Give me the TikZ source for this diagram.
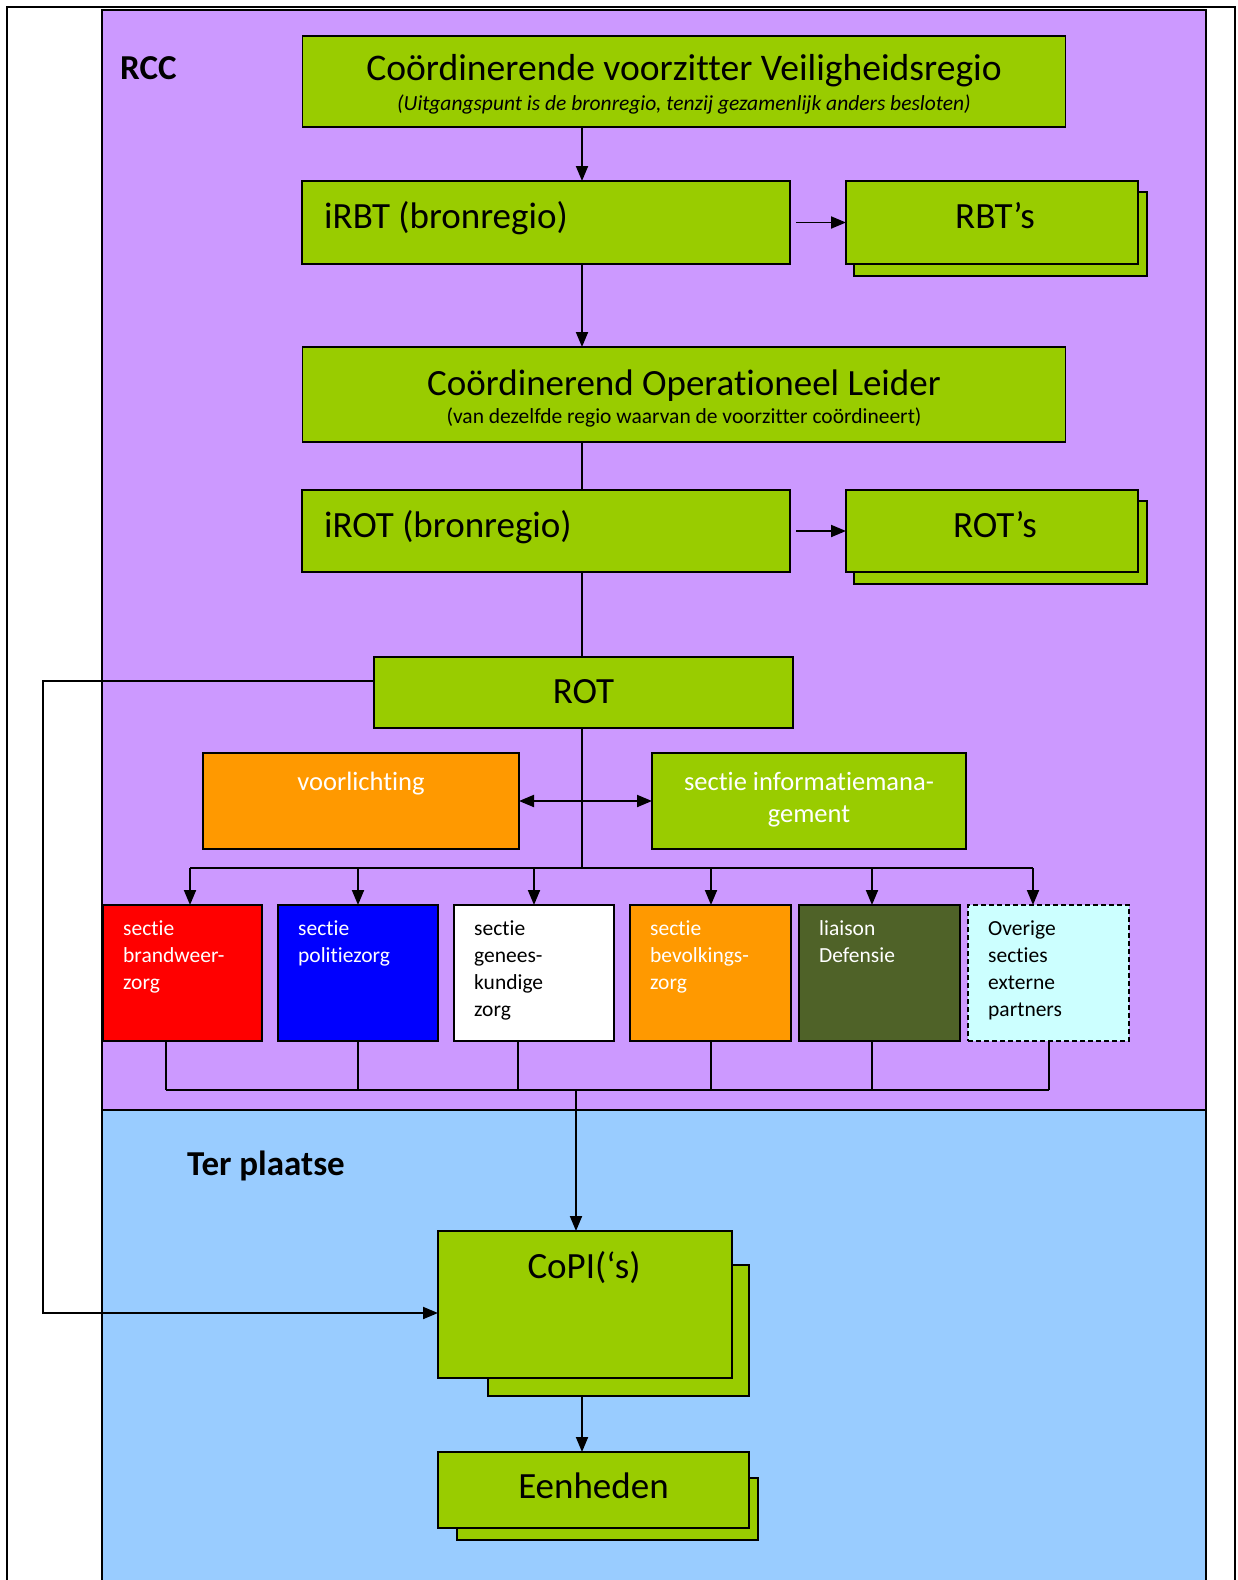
\documentclass[tikz,border=0pt]{standalone}
\usepackage{fontspec}
\setmainfont{Carlito}[Ligatures=CommonOff]
\usetikzlibrary{arrows.meta,calc}
\definecolor{grn}{HTML}{99CC00}
\definecolor{prp}{HTML}{CC99FF}
\definecolor{lbl}{HTML}{99CCFF}
\definecolor{org}{HTML}{FF9900}
\definecolor{olv}{HTML}{4F6228}
\definecolor{cyn}{HTML}{CCFFFF}
\tikzset{
  box/.style={draw=black, line width=1.9pt, fill=grn, inner sep=0pt, outer sep=0pt},
  conn/.style={draw=black, line width=1.9pt},
  arr/.style={conn, -{Triangle[length=15pt,width=12pt]}},
  dbl/.style={conn, {Triangle[length=15pt,width=12pt]}-{Triangle[length=15pt,width=12pt]}},
  big/.style={font=\fontsize{37}{44}\selectfont, inner sep=0pt},
  sub/.style={font=\fontsize{21.5}{26}\selectfont, inner sep=0pt},
  sect/.style={font=\fontsize{21.5}{27.2}\selectfont, inner sep=0pt, align=left, anchor=north west},
  ttl/.style={font=\fontsize{35}{42}\selectfont\bfseries, inner sep=0pt, anchor=base west},
}
\begin{document}
\begin{tikzpicture}[x=1pt,y=-1pt]
\clip (0,0) rectangle (1238,1580);
\fill[white] (0,0) rectangle (1238,1580);
% outer frame
\draw[line width=2.6pt] (7,1600) -- (7,7) -- (1235,7) -- (1235,1600);
% regions
\draw[fill=prp, line width=1.6pt] (102,10) rectangle (1206,1110);
\draw[fill=lbl, line width=1.6pt] (102,1110) rectangle (1206,1600);
\node[ttl] (rcc) at (120,79) {RCC};
\node[ttl] (ter) at (187,1175) {Ter plaatse};

% boxes
\node[box, minimum width=763pt, minimum height=91pt] (cv) at (684,81.5) {};
\node[big, anchor=base, font=\fontsize{37.6}{45}\selectfont] (cvt) at (684,80) {Coördinerende voorzitter Veiligheidsregio};
\node[sub, anchor=base, font=\fontsize{21.5}{26}\selectfont\itshape] (cvs) at (684,110) {(Uitgangspunt is de bronregio, tenzij gezamenlijk anders besloten)};

\node[box, minimum width=488pt, minimum height=83pt] (irbt) at (546,222.5) {};
\node[big, anchor=base west] (irbtt) at (324,228) {iRBT (bronregio)};
\node[box, minimum width=293pt, minimum height=84pt] (rbts) at (1000.5,234) {};
\node[box, minimum width=292pt, minimum height=83pt] (rbt) at (992,222.5) {};
\node[big, anchor=base] (rbtt) at (995,228) {RBT’s};

\node[box, minimum width=763pt, minimum height=95pt] (col) at (684,394.5) {};
\node[big, anchor=base] (colt) at (684,395) {Coördinerend Operationeel Leider};
\node[sub, anchor=base] (cols) at (684,423) {(van dezelfde regio waarvan de voorzitter coördineert)};

\node[box, minimum width=488pt, minimum height=82pt] (irot) at (546,531) {};
\node[big, anchor=base west] (irott) at (324,537) {iROT (bronregio)};
\node[box, minimum width=293pt, minimum height=83pt] (rots) at (1000.5,542.5) {};
\node[box, minimum width=292pt, minimum height=82pt] (rotm) at (992,531) {};
\node[big, anchor=base] (rotmt) at (995,537) {ROT’s};

\node[box, minimum width=419pt, minimum height=71pt] (rot) at (583.5,692.5) {};
\node[big, anchor=base] (rott) at (583.5,703) {ROT};

\node[box, fill=org, minimum width=316pt, minimum height=96pt] (voor) at (361,801) {};
\node[font=\fontsize{26.5}{32}\selectfont, inner sep=0pt, anchor=base, text=white] (voort) at (361,790) {voorlichting};
\node[box, minimum width=314pt, minimum height=96pt] (info) at (809,801) {};
\node[font=\fontsize{26.5}{32}\selectfont, inner sep=0pt, align=center, anchor=north, text=white] (infot) at (809,767.6) {\strut sectie informatiemana-\\\strut gement};

% sections
\node[box, fill=red, minimum width=159pt, minimum height=136pt] (s1) at (182.5,973) {};
\node[box, fill=blue, minimum width=160pt, minimum height=136pt] (s2) at (358,973) {};
\node[box, fill=white, minimum width=160pt, minimum height=136pt] (s3) at (534,973) {};
\node[box, fill=org, minimum width=161pt, minimum height=136pt] (s4) at (710.5,973) {};
\node[box, fill=olv, minimum width=161pt, minimum height=136pt] (s5) at (879.5,973) {};
\node[box, fill=cyn, dash pattern=on 5pt off 3pt, minimum width=161pt, minimum height=136pt] (s6) at (1048.5,973) {};
\node[sect, text=white] (s1t) at (123,916) {\strut sectie\\\strut brandweer-\\\strut zorg};
\node[sect, text=white] (s2t) at (298,916) {\strut sectie\\\strut politiezorg};
\node[sect, text=black] (s3t) at (474,916) {\strut sectie\\\strut genees-\\\strut kundige\\\strut zorg};
\node[sect, text=white] (s4t) at (650,916) {\strut sectie\\\strut bevolkings-\\\strut zorg};
\node[sect, text=white] (s5t) at (819,916) {\strut liaison\\\strut Defensie};
\node[sect, text=black] (s6t) at (988,916) {\strut Overige\\\strut secties\\\strut externe\\\strut partners};

% on site
\node[box, minimum width=261pt, minimum height=131pt] (copis) at (618.5,1330.5) {};
\node[box, minimum width=294pt, minimum height=147pt] (copi) at (585,1304.5) {};
\node[big, anchor=base] (copit) at (584,1278) {CoPI(‘s)};
\node[box, minimum width=301pt, minimum height=62pt] (eens) at (607.5,1509) {};
\node[box, minimum width=311pt, minimum height=76pt] (een) at (593.5,1490) {};
\node[big, anchor=base] (eent) at (593.5,1498) {Eenheden};

% connectors
\coordinate (sx) at (582,0);
\draw[arr] (cv.south -| sx) -- (irbt.north -| sx);
\draw[arr] (irbt.south -| sx) -- (col.north -| sx);
\draw[conn] (col.south -| sx) -- (irot.north -| sx);
\draw[conn] (irot.south -| sx) -- (rot.north -| sx);
\coordinate (busC) at (582,868);
\draw[conn] (rot.south -| sx) -- (busC);
\draw[arr, shorten <=6pt] (irbt.east) -- (rbt.west);
\draw[arr, shorten <=6pt] (irot.east) -- (rotm.west);
\draw[dbl] (voor.east) -- (info.west);

\coordinate (a1) at (190,868);
\coordinate (a2) at (358,868);
\coordinate (a3) at (534,868);
\coordinate (a4) at (711,868);
\coordinate (a5) at (872,868);
\coordinate (a6) at (1033,868);
\draw[conn] (a1) -- (a6);
\draw[arr] (a1) -- (s1.north -| a1);
\draw[arr] (a2) -- (s2.north -| a2);
\draw[arr] (a3) -- (s3.north -| a3);
\draw[arr] (a4) -- (s4.north -| a4);
\draw[arr] (a5) -- (s5.north -| a5);
\draw[arr] (a6) -- (s6.north -| a6);

\coordinate (b1) at (166,1090);
\coordinate (b2) at (358,1090);
\coordinate (b3) at (518,1090);
\coordinate (b4) at (711,1090);
\coordinate (b5) at (872,1090);
\coordinate (b6) at (1049,1090);
\coordinate (bC) at (576,1090);
\draw[conn] (s1.south -| b1) -- (b1);
\draw[conn] (s2.south -| b2) -- (b2);
\draw[conn] (s3.south -| b3) -- (b3);
\draw[conn] (s4.south -| b4) -- (b4);
\draw[conn] (s5.south -| b5) -- (b5);
\draw[conn] (s6.south -| b6) -- (b6);
\draw[conn] (b1) -- (b6);
\draw[arr] (bC) -- (copi.north -| bC);

\coordinate (L1) at (43,681);
\coordinate (L2) at (43,1313);
\draw[arr] (rot.west |- L1) -- (L1) -- (L2) -- (copi.west |- L2);
\draw[arr] (copis.south -| sx) -- (een.north -| sx);
\end{tikzpicture}
\end{document}
